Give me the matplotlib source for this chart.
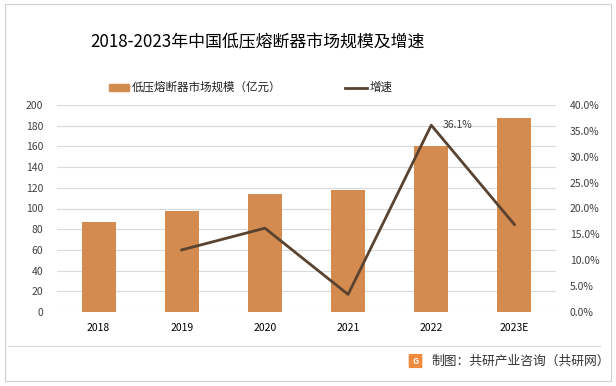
import matplotlib
matplotlib.use("Agg")
import matplotlib.pyplot as plt
from matplotlib.patches import Rectangle, FancyBboxPatch
from matplotlib.lines import Line2D

plt.rcParams['font.family'] = ['Noto Sans CJK SC', 'DejaVu Sans']

years = ["2018", "2019", "2020", "2021", "2022", "2023E"]
market_size = [87.3, 97.8, 113.6, 117.5, 160.0, 187.0]
growth_years = ["2019", "2020", "2021", "2022", "2023E"]
growth = [12.0, 16.2, 3.4, 36.1, 16.9]
left_ticks = [0, 20, 40, 60, 80, 100, 120, 140, 160, 180, 200]
right_ticks = [0, 5, 10, 15, 20, 25, 30, 35, 40]

title = "2018-2023年中国低压熔断器市场规模及增速"
bar_label = "低压熔断器市场规模（亿元）"
line_label = "增速"
source = "制图：共研产业咨询（共研网）"

bar_color = "#D38B4F"
line_color = "#5A4230"

W, H = 616, 386
fig = plt.figure(figsize=(W/100, H/100), dpi=100)

# plot area in pixels
x0, x1 = 57, 556
y_top, y_bot = 105, 312
ax = fig.add_axes([x0/W, 1 - y_bot/H, (x1-x0)/W, (y_bot-y_top)/H])
xs = list(range(len(years)))
ax.bar(xs, market_size, width=0.41, color=bar_color, zorder=2)
ax.set_xlim(-0.5, len(years)-0.5)
ax.set_ylim(0, 200)
ax.set_yticks(left_ticks)
ax.set_yticklabels([str(t) for t in left_ticks], fontsize=7.5, color="#404040")
ax.set_xticks(xs)
ax.set_xticklabels(years, fontsize=7.5, color="#000000")
ax.tick_params(axis='both', length=0, pad=10)
ax.tick_params(axis='x', pad=8)
ax.grid(axis='y', color="#D9D9D9", linewidth=0.8, zorder=0)
for s in ax.spines.values():
    s.set_visible(False)

ax2 = ax.twinx()
gx = [years.index(y) for y in growth_years]
ax2.plot(gx, growth, color=line_color, linewidth=2.0, zorder=3)
ax2.set_ylim(0, 40)
ax2.set_yticks(right_ticks)
ax2.set_yticklabels([f"{t:.1f}%" for t in right_ticks], fontsize=7.5, color="#404040")
ax2.tick_params(axis='y', length=0, pad=10)
for s in ax2.spines.values():
    s.set_visible(False)
i22 = growth_years.index("2022")
ax2.annotate(f"{growth[i22]:.1f}%", (gx[i22], growth[i22]), xytext=(8, 0),
             textcoords='offset points', fontsize=7.5, color="#404040", va='center')

# title
fig.text(0.5*(93+422)/W, 1 - 42/H, title, fontsize=12.2, ha='center', va='center', color="#000000")

# legend
fig.patches.append(Rectangle((109/W, 1-91/H), 20/W, 7/H, transform=fig.transFigure,
                             color=bar_color, figure=fig))
fig.text(132/W, 1-87.5/H, bar_label, fontsize=8.3, va='center', color="#222222")
fig.lines.append(Line2D([345/W, 367/W], [1-87.5/H, 1-87.5/H], transform=fig.transFigure,
                        color=line_color, linewidth=2.0, figure=fig))
fig.text(370/W, 1-87.5/H, line_label, fontsize=8.3, va='center', color="#222222")

# footer line and source
fig.lines.append(Line2D([8/W, 600/W], [1-346/H, 1-346/H], transform=fig.transFigure,
                        color="#D9D9D9", linewidth=0.8, figure=fig))
fig.patches.append(FancyBboxPatch((410/W, 1-367/H), 11/W, 12/H, boxstyle="round,pad=0.001",
                                  transform=fig.transFigure, color="#F08A3C", figure=fig))
fig.text(415.5/W, 1-361/H, "G", fontsize=6, color="white", ha='center', va='center', fontweight='bold')
fig.text(431/W, 1-361/H, source, fontsize=9.2, va='center', color="#333333")

# outer border
fig.patches.append(Rectangle((5/W, 1-381/H), 606/W, 377/H, transform=fig.transFigure,
                             fill=False, edgecolor="#D0D0D0", linewidth=0.8, figure=fig))

fig.savefig("out.png", dpi=100)
